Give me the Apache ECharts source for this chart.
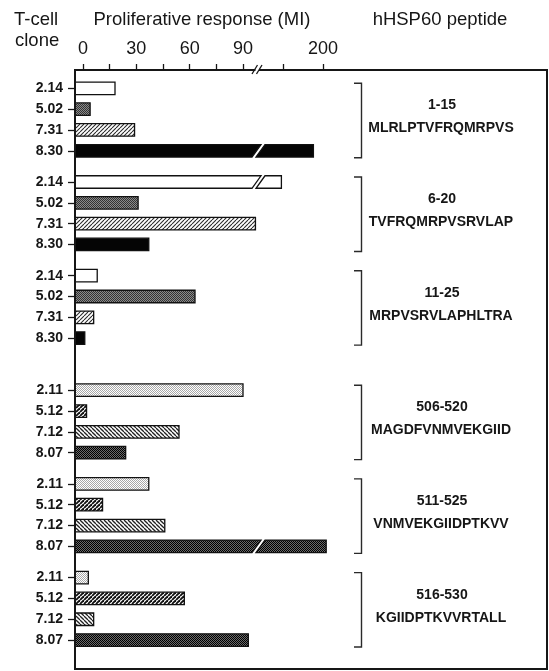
<!DOCTYPE html>
<html>
<head>
<meta charset="utf-8">
<script src="https://cdn.jsdelivr.net/npm/echarts@6/dist/echarts.min.js"></script>
<style>
  html, body { margin: 0; padding: 0; background: #fff; }
  #chart { width: 549px; height: 671px; }
</style>
</head>
<body>
<div id="chart"></div>
<script>
// hHSP60 peptides (residue range and sequence)
const peptideRanges = ['1-15', '6-20', '11-25', '506-520', '511-525', '516-530'];
const peptideSequences = ['MLRLPTVFRQMRPVS', 'TVFRQMRPVSRVLAP', 'MRPVSRVLAPHLTRA',
                          'MAGDFVNMVEKGIID', 'VNMVEKGIIDPTKVV', 'KGIIDPTKVVRTALL'];

// T-cell clones tested with the N-terminal and the C-terminal peptides
const clonesN = ['2.14', '5.02', '7.31', '8.30'];
const clonesC = ['2.11', '5.12', '7.12', '8.07'];

// Proliferative response (MI), one value per clone, in clone order
const mi_1_15    = [18, 4, 29, 188];
const mi_6_20    = [148, 31, 97, 37];
const mi_11_25   = [8, 63, 6, 1];
const mi_506_520 = [90, 2, 54, 24];
const mi_511_525 = [37, 11, 46, 204];
const mi_516_530 = [3, 57, 6, 93];

// Tick labels of the broken response axis
const lowerTickLabels = [0, 30, 60, 90];
const upperTickLabels = [200];

const groups = [
  { clones: clonesN, values: mi_1_15 },
  { clones: clonesN, values: mi_6_20 },
  { clones: clonesN, values: mi_11_25 },
  { clones: clonesC, values: mi_506_520 },
  { clones: clonesC, values: mi_511_525 },
  { clones: clonesC, values: mi_516_530 }
];

// ---- layout: rows sit on half-row slots so groups can be spaced apart ----
const SLOT_COUNT = 57;
const LEAD = 1;
const groupStart = [0, 9, 18, 29, 38, 47];
const GRID_TOP = 72.7, SLOT_H = 10.41;
const BAR_H = 12.5;

// lower axis segment: 0 at x=83, 90 at x=243 ; upper segment: 150 at x=283, 200 at x=323
const PX_LOW = 160 / 90, PX_UP = 0.8;
const FRAME_L = 75, BREAK_X = 258.5, RIGHT_END = 342;
const LEFT_MIN = -(83 - FRAME_L) / PX_LOW;
const LEFT_MAX = (BREAK_X - 83) / PX_LOW;
const RIGHT_MIN = 150 - (283 - BREAK_X) / PX_UP;
const RIGHT_MAX = RIGHT_MIN + (RIGHT_END - BREAK_X) / PX_UP;

const slotIds = [];
const slotText = [];
for (let i = 0; i < SLOT_COUNT; i++) { slotIds.push('s' + i); slotText.push(''); }
const barData = [];
groups.forEach((g, gi) => {
  g.values.forEach((v, r) => {
    const slot = LEAD + groupStart[gi] + 2 * r;
    slotText[slot] = g.clones[r];
    barData.push([v, slot, gi < 3 ? r : r + 4]);
  });
});

// ---- fill patterns for the clones ----
function pattern(size, draw) {
  const c = document.createElement('canvas');
  c.width = c.height = size;
  const ctx = c.getContext('2d');
  draw(ctx, size);
  return { image: c, repeat: 'repeat' };
}
function hatch(size, width, color, back, forward) {
  return pattern(size, (ctx, s) => {
    ctx.fillStyle = back; ctx.fillRect(0, 0, s, s);
    ctx.strokeStyle = color; ctx.lineWidth = width;
    for (let o = -s; o <= s; o += s) {
      ctx.beginPath();
      if (forward) { ctx.moveTo(o, s); ctx.lineTo(o + s, 0); }
      else { ctx.moveTo(o, 0); ctx.lineTo(o + s, s); }
      ctx.stroke();
    }
  });
}
function checker(a, b) {
  return pattern(2, (ctx) => {
    ctx.fillStyle = b; ctx.fillRect(0, 0, 2, 2);
    ctx.fillStyle = a; ctx.fillRect(0, 0, 1, 1); ctx.fillRect(1, 1, 1, 1);
  });
}
const fills = [
  '#ffffff',                                   // 2.14
  checker('#333333', '#8a8a8a'),               // 5.02
  hatch(4, 1.1, '#2a2a2a', '#ffffff', true),   // 7.31
  '#050505',                                   // 8.30
  checker('#a8a8a8', '#ffffff'),               // 2.11
  hatch(4, 1.9, '#111111', '#ffffff', true),   // 5.12
  hatch(4, 1.3, '#222222', '#ffffff', false),  // 7.12
  checker('#000000', '#6a6a6a')                // 8.07
];
const STROKE = '#111';

function barStyle(k) {
  return { fill: fills[k], stroke: STROKE, lineWidth: 1.3 };
}

// lower part of each bar (frame to break)
function renderLower(params, api) {
  const v = api.value(0), slot = api.value(1), k = api.value(2);
  const cs = params.coordSys;
  const y = api.coord([0, slot])[1];
  const top = y - BAR_H / 2, bot = y + BAR_H / 2;
  const x0 = cs.x;
  let points;
  if (v <= LEFT_MAX) {
    const x1 = api.coord([v, slot])[0];
    points = [[x0, top], [x1, top], [x1, bot], [x0, bot]];
  } else {
    const B = cs.x + cs.width;
    points = [[x0, top], [B + 2.5, top], [B - 6.5, bot], [x0, bot]];
  }
  return { type: 'polygon', shape: { points: points }, style: barStyle(k) };
}

// upper part of bars that run past the break
function renderUpper(params, api) {
  const v = api.value(0), slot = api.value(1), k = api.value(2);
  if (v <= LEFT_MAX) return null;
  const cs = params.coordSys;
  const y = api.coord([v, slot])[1];
  const x1 = api.coord([v, slot])[0];
  const top = y - BAR_H / 2, bot = y + BAR_H / 2;
  const B = cs.x;
  const points = [[B + 6.5, top], [x1, top], [x1, bot], [B - 2.5, bot]];
  return { type: 'polygon', shape: { points: points }, style: barStyle(k) };
}

const FONT = 'Liberation Sans, Arial, sans-serif';
const INK = '#161616';
const gridH = SLOT_COUNT * SLOT_H;

const chart = echarts.init(document.getElementById('chart'), null, { renderer: 'canvas' });

function tickAxis(gridIndex, min, max, interval, shown) {
  return {
    gridIndex: gridIndex, type: 'value', position: 'bottom',
    min: min, max: max, interval: interval,
    axisLine: { show: false },
    axisTick: { show: true, inside: true, length: 6, lineStyle: { color: INK, width: 1.3 } },
    splitLine: { show: false },
    axisLabel: {
      inside: true, margin: 12, color: INK, fontFamily: FONT, fontSize: 18,
      formatter: (v) => (shown.indexOf(v) >= 0 ? String(v) : '')
    }
  };
}

const option = {
  animation: false,
  backgroundColor: '#ffffff',
  grid: [
    { left: FRAME_L, width: BREAK_X - FRAME_L, top: GRID_TOP, height: gridH, outerBoundsMode: 'none' },
    { left: BREAK_X, width: RIGHT_END - BREAK_X, top: GRID_TOP, height: gridH, outerBoundsMode: 'none' },
    { left: 83, width: 160, top: 30, height: 40, outerBoundsMode: 'none' },
    { left: 283, width: 40, top: 30, height: 40, outerBoundsMode: 'none' }
  ],
  xAxis: [
    { gridIndex: 0, type: 'value', min: LEFT_MIN, max: LEFT_MAX, show: false },
    { gridIndex: 1, type: 'value', min: RIGHT_MIN, max: RIGHT_MAX, show: false },
    tickAxis(2, 0, 90, 15, lowerTickLabels),
    tickAxis(3, 150, 200, 50, upperTickLabels)
  ],
  yAxis: [
    {
      gridIndex: 0, type: 'category', data: slotIds, inverse: true, position: 'left',
      axisLine: { show: true, onZero: false, lineStyle: { color: INK, width: 2 } },
      axisTick: {
        show: true, length: 7, alignWithLabel: true,
        interval: (i) => slotText[i] !== '',
        lineStyle: { color: INK, width: 1.3 }
      },
      axisLabel: {
        interval: 0, margin: 12, color: INK, fontFamily: FONT,
        fontWeight: 'bold', fontSize: 14,
        formatter: (v, i) => slotText[i]
      },
      splitLine: { show: false }
    },
    { gridIndex: 1, type: 'category', data: slotIds, inverse: true, show: false },
    { gridIndex: 2, type: 'value', show: false },
    { gridIndex: 3, type: 'value', show: false }
  ],
  series: [
    {
      type: 'custom', xAxisIndex: 0, yAxisIndex: 0, clip: false,
      encode: { x: 0, y: 1 }, data: barData, renderItem: renderLower, z: 3
    },
    {
      type: 'custom', xAxisIndex: 1, yAxisIndex: 1, clip: false,
      encode: { x: 0, y: 1 }, data: barData, renderItem: renderUpper, z: 3
    }
  ]
};
chart.setOption(option);

// ---- frame, headers, axis break mark and peptide brackets ----
const graphics = [
  {
    type: 'rect', z: 10, silent: true,
    shape: { x: FRAME_L, y: 70, width: 472, height: 599 },
    style: { fill: null, stroke: INK, lineWidth: 2 }
  },
  { type: 'rect', z: 11, shape: { x: 255.5, y: 68, width: 3.5, height: 4 }, style: { fill: '#fff' } },
  { type: 'line', z: 12, shape: { x1: 252, y1: 74, x2: 257.5, y2: 65 }, style: { stroke: INK, lineWidth: 1.3 } },
  { type: 'line', z: 12, shape: { x1: 256.5, y1: 74, x2: 262, y2: 65 }, style: { stroke: INK, lineWidth: 1.3 } },
  {
    type: 'text', z: 12, style: {
      x: 14, y: 20, text: 'T-cell', fill: INK, font: '18.5px ' + FONT,
      textAlign: 'left', textVerticalAlign: 'middle'
    }
  },
  {
    type: 'text', z: 12, style: {
      x: 15, y: 41, text: 'clone', fill: INK, font: '18.5px ' + FONT,
      textAlign: 'left', textVerticalAlign: 'middle'
    }
  },
  {
    type: 'text', z: 12, style: {
      x: 202, y: 20, text: 'Proliferative response (MI)', fill: INK, font: '18.5px ' + FONT,
      textAlign: 'center', textVerticalAlign: 'middle'
    }
  },
  {
    type: 'text', z: 12, style: {
      x: 440, y: 20, text: 'hHSP60 peptide', fill: INK, font: '18.5px ' + FONT,
      textAlign: 'center', textVerticalAlign: 'middle'
    }
  }
];

groups.forEach((g, gi) => {
  const first = LEAD + groupStart[gi];
  const last = first + 2 * (g.values.length - 1);
  const yFirst = chart.convertToPixel({ gridIndex: 0 }, [0, first])[1];
  const yLast = chart.convertToPixel({ gridIndex: 0 }, [0, last])[1];
  const yTop = yFirst - 5, yBot = yLast + 7;
  const mid = (yFirst + yLast) / 2;
  graphics.push({
    type: 'polyline', z: 12,
    shape: { points: [[354, yTop], [361.5, yTop], [361.5, yBot], [354, yBot]] },
    style: { stroke: '#2a2a2a', lineWidth: 1.4, fill: null }
  });
  graphics.push({
    type: 'text', z: 12, style: {
      x: 442, y: mid - 14, text: peptideRanges[gi], fill: INK,
      font: 'bold 14px ' + FONT, textAlign: 'center', textVerticalAlign: 'middle'
    }
  });
  graphics.push({
    type: 'text', z: 12, style: {
      x: 441, y: mid + 9, text: peptideSequences[gi], fill: INK,
      font: 'bold 14px ' + FONT, textAlign: 'center', textVerticalAlign: 'middle'
    }
  });
});

chart.setOption({ graphic: graphics });
</script>
</body>
</html>
